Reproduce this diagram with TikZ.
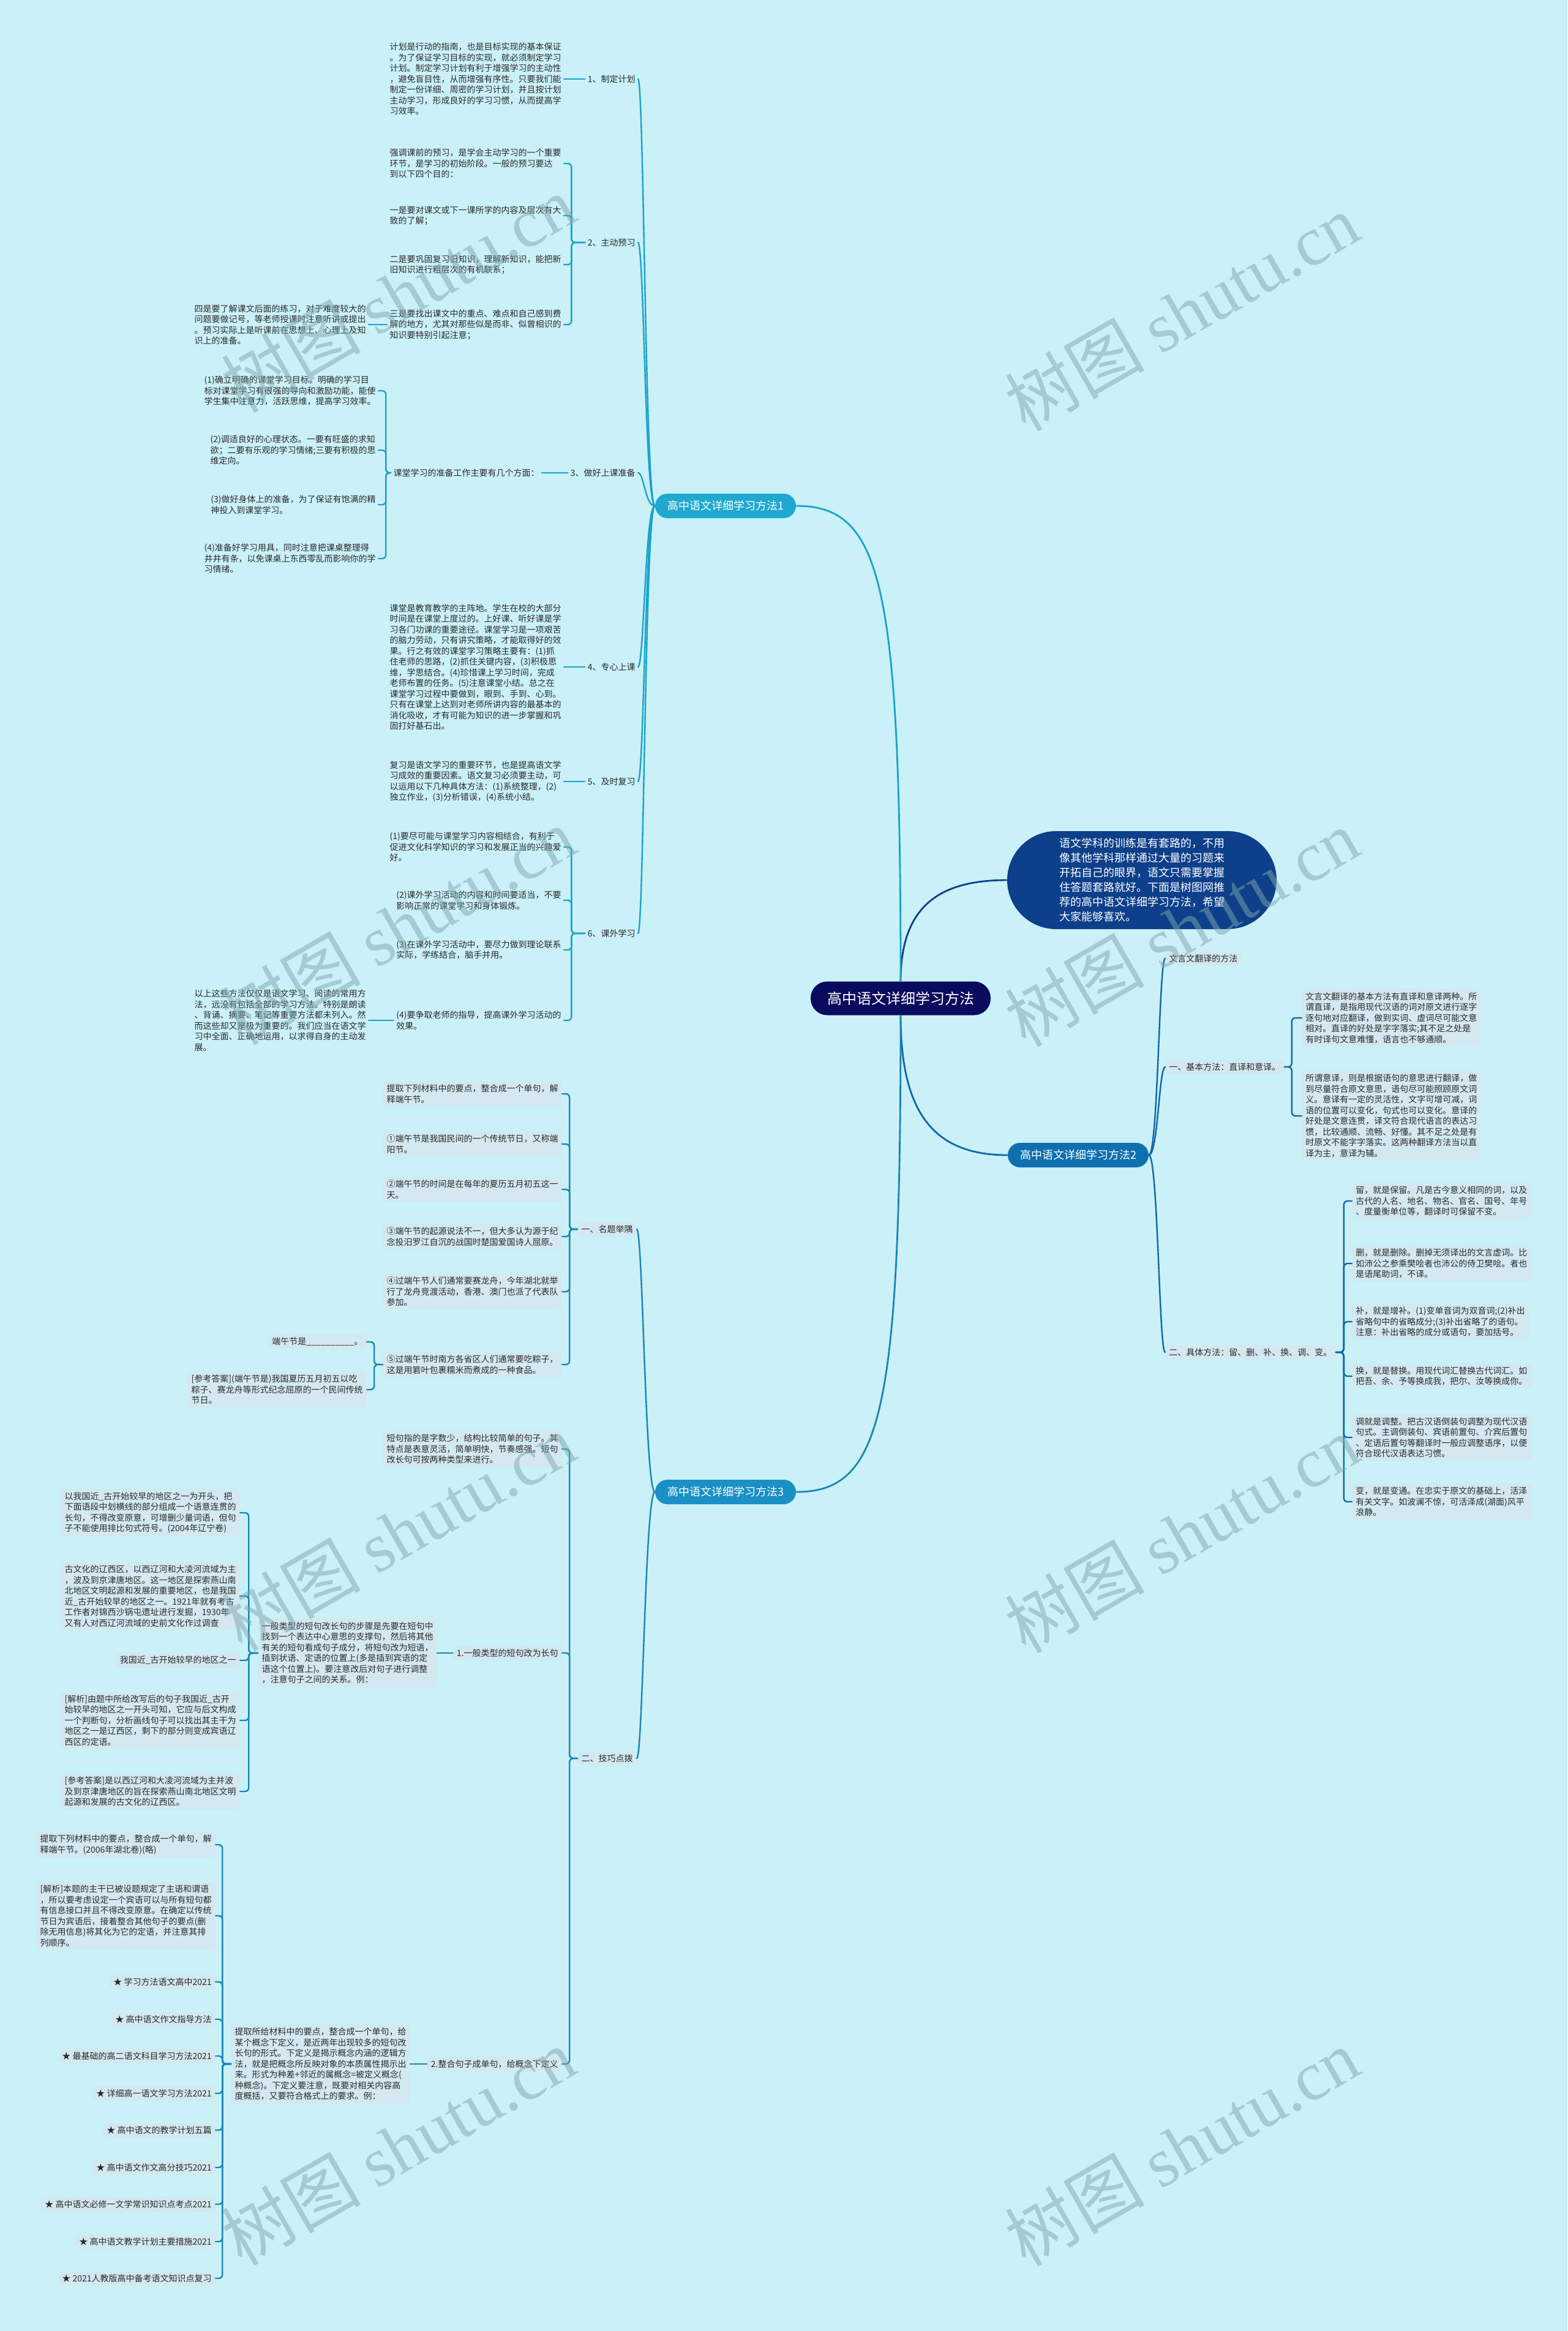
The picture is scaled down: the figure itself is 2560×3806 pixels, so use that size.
\documentclass[tikz,border=0pt]{standalone}
\usepackage{fontspec}
\setmainfont{Noto Sans CJK SC}
\newfontfamily\wmlatin{Liberation Serif}
\definecolor{bgc}{HTML}{CAF0F8}
\definecolor{boxc}{HTML}{D3E8F0}
\definecolor{rootc}{HTML}{0A0A5E}
\definecolor{introc}{HTML}{0D3F8A}
\definecolor{m1c}{HTML}{1FA8D0}
\definecolor{m2c}{HTML}{0F70B0}
\definecolor{m3c}{HTML}{1A90C5}
\definecolor{l1c}{HTML}{1AA3C9}
\definecolor{l2c}{HTML}{0F68A5}
\definecolor{l3c}{HTML}{1A85B5}
\definecolor{wmc}{HTML}{7FA8AF}
\definecolor{txtc}{HTML}{2B2B2B}
\newcommand\fsleaf{\fontsize{7pt}{8.75pt}\selectfont}
\tikzset{
  leaftxt/.style={align=left, inner xsep=2pt, inner ysep=1pt, font=\fsleaf, text=txtc},
  leafbox/.style={leaftxt, fill=boxc, rounded corners=3pt, inner xsep=3pt, inner ysep=2.5pt},
  mnode/.style={text=white, rounded corners=10pt, minimum height=20pt, minimum width=115pt, inner sep=0pt, font=\fontsize{9pt}{11pt}\selectfont},
  rootnode/.style={fill=rootc, text=white, rounded corners=13.5pt, minimum height=27.5pt, minimum width=147pt, inner sep=0pt, font=\fontsize{12pt}{14pt}\selectfont},
  intronode/.style={fill=introc, text=white, rounded corners=40pt, minimum height=80pt, minimum width=220pt, align=left, inner sep=0pt, font=\fontsize{9pt}{12pt}\selectfont},
  wline/.style={line width=1.2pt, line cap=round},
  aline/.style={wline, draw=l1c},
  bline/.style={wline, draw=l2c},
  cline/.style={wline, draw=l3c},
  wmark/.style={rotate=30, text=wmc, text opacity=0.5, font=\fontsize{57pt}{60pt}\selectfont, inner sep=0pt},
}
\begin{document}
\begin{tikzpicture}[x=0.5pt,y=-0.5pt]
\fill[bgc] (0,0) rectangle (2560,3806);
\useasboundingbox (0,0) rectangle (2560,3806);

% ---------- main nodes
\node[rootnode] (root) at (1471,1630) {高中语文详细学习方法};
\node[intronode] (intro) at (1865,1437) {语文学科的训练是有套路的，不用\\像其他学科那样通过大量的习题来\\开拓自己的眼界，语文只需要掌握\\住答题套路就好。下面是树图网推\\荐的高中语文详细学习方法，希望\\大家能够喜欢。};
\node[mnode, fill=m1c] (m1) at (1185,826) {高中语文详细学习方法1};
\node[mnode, fill=m2c] (m2) at (1761,1886) {高中语文详细学习方法2};
\node[mnode, fill=m3c] (m3) at (1185,2436) {高中语文详细学习方法3};

\draw[line width=1.4pt, introc] (root.north) .. controls +(0,-123) and +(-110,0) .. (intro.west);
\draw[line width=1.4pt, l2c] (root.south) .. controls +(0,160) and +(-120,0) .. (m2.west);
\draw[line width=1.4pt, l1c] (root.north) .. controls (1471,950) and (1440,826) .. (m1.east);
\draw[line width=1.4pt, l3c] (root.south) .. controls (1471,2310) and (1440,2436) .. (m3.east);

% ---------- method 1
\node[leaftxt, anchor=east] (L1) at (1042,129) {1、制定计划};
\node[leaftxt, anchor=east] (L2) at (1042,396) {2、主动预习};
\node[leaftxt, anchor=east] (L3) at (1042,772) {3、做好上课准备};
\node[leaftxt, anchor=east] (L4) at (1042,1089) {4、专心上课};
\node[leaftxt, anchor=east] (L5) at (1042,1276) {5、及时复习};
\node[leaftxt, anchor=east] (L6) at (1042,1524) {6、课外学习};
\foreach \c in {L1,L2,L3,L4,L5,L6} {\draw[aline] (m1.west) .. controls +(-16,0) and +(10,0) .. (\c.east);}

\node[leaftxt, anchor=east] (A1) at (921,129) {计划是行动的指南，也是目标实现的基本保证\\。为了保证学习目标的实现，就必须制定学习\\计划。制定学习计划有利于增强学习的主动性\\，避免盲目性，从而增强有序性。只要我们能\\制定一份详细、周密的学习计划，并且按计划\\主动学习，形成良好的学习习惯，从而提高学\\习效率。};
\draw[aline] (L1.west) -- (A1.east);

\node[leaftxt, anchor=east] (A2a) at (921,267) {强调课前的预习，是学会主动学习的一个重要\\环节，是学习的初始阶段。一般的预习要达\\到以下四个目的：};
\node[leaftxt, anchor=east] (A2b) at (921,352) {一是要对课文或下一课所学的内容及层次有大\\致的了解；};
\node[leaftxt, anchor=east] (A2c) at (921,432) {二是要巩固复习旧知识，理解新知识，能把新\\旧知识进行粗层次的有机联系；};
\node[leaftxt, anchor=east] (A2d) at (921,530) {三是要找出课文中的重点、难点和自己感到费\\解的地方，尤其对那些似是而非、似曾相识的\\知识要特别引起注意；};
\node[leaftxt, anchor=east] (A2e) at (602,530) {四是要了解课文后面的练习，对于难度较大的\\问题要做记号，等老师授课时注意听讲或提出\\。预习实际上是听课前在思想上、心理上及知\\识上的准备。};
\foreach \c in {A2a,A2b,A2c,A2d} {\draw[aline, rounded corners=3pt] (L2.west) -- ++(-22,0) |- (\c.east);}
\draw[aline] (A2d.west) -- (A2e.east);

\node[leaftxt, anchor=east] (P3) at (885,772) {课堂学习的准备工作主要有几个方面：};
\draw[aline] (L3.west) -- (P3.east);
\node[leaftxt, anchor=east] (A3a) at (618,638) {(1)确立明确的课堂学习目标。明确的学习目\\标对课堂学习有很强的导向和激励功能，能使\\学生集中注意力，活跃思维，提高学习效率。};
\node[leaftxt, anchor=east] (A3b) at (618,735) {(2)调适良好的心理状态。一要有旺盛的求知\\欲；二要有乐观的学习情绪;三要有积极的思\\维定向。};
\node[leaftxt, anchor=east] (A3c) at (618,824) {(3)做好身体上的准备，为了保证有饱满的精\\神投入到课堂学习。};
\node[leaftxt, anchor=east] (A3d) at (618,912) {(4)准备好学习用具，同时注意把课桌整理得\\井井有条，以免课桌上东西零乱而影响你的学\\习情绪。};
\foreach \c in {A3a,A3b,A3c,A3d} {\draw[aline, rounded corners=3pt] (P3.west) -- ++(-8,0) |- (\c.east);}

\node[leaftxt, anchor=east] (A4) at (921,1089) {课堂是教育教学的主阵地。学生在校的大部分\\时间是在课堂上度过的。上好课、听好课是学\\习各门功课的重要途径。课堂学习是一项艰苦\\的脑力劳动，只有讲究策略，才能取得好的效\\果。行之有效的课堂学习策略主要有：(1)抓\\住老师的思路，(2)抓住关键内容，(3)积极思\\维，学思结合。(4)珍惜课上学习时间，完成\\老师布置的任务。(5)注意课堂小结。总之在\\课堂学习过程中要做到，眼到、手到、心到。\\只有在课堂上达到对老师所讲内容的最基本的\\消化吸收，才有可能为知识的进一步掌握和巩\\固打好基石出。};
\draw[aline] (L4.west) -- (A4.east);

\node[leaftxt, anchor=east] (A5) at (921,1276) {复习是语文学习的重要环节，也是提高语文学\\习成效的重要因素。语文复习必须要主动，可\\以运用以下几种具体方法：(1)系统整理，(2)\\独立作业，(3)分析错误，(4)系统小结。};
\draw[aline] (L5.west) -- (A5.east);

\node[leaftxt, anchor=east] (A6a) at (921,1383) {(1)要尽可能与课堂学习内容相结合，有利于\\促进文化科学知识的学习和发展正当的兴趣爱\\好。};
\node[leaftxt, anchor=east] (A6b) at (921,1470) {(2)课外学习活动的内容和时间要适当，不要\\影响正常的课堂学习和身体锻炼。};
\node[leaftxt, anchor=east] (A6c) at (921,1551) {(3)在课外学习活动中，要尽力做到理论联系\\实际，学练结合，脑手并用。};
\node[leaftxt, anchor=east] (A6d) at (921,1666) {(4)要争取老师的指导，提高课外学习活动的\\效果。};
\node[leaftxt, anchor=east] (A6e) at (602,1666) {以上这些方法仅仅是语文学习、阅读的常用方\\法，远没有包括全部的学习方法。特别是朗读\\、背诵、摘要、笔记等重要方法都未列入。然\\而这些却又是极为重要的。我们应当在语文学\\习中全面、正确地运用，以求得自身的主动发\\展。};
\foreach \c in {A6a,A6b,A6c,A6d} {\draw[aline, rounded corners=3pt] (L6.west) -- ++(-22,0) |- (\c.east);}
\draw[aline] (A6d.west) -- (A6e.east);

% ---------- method 2
\node[leafbox, anchor=west] (R1) at (1903,1565) {文言文翻译的方法};
\node[leafbox, anchor=west] (R2) at (1903,1742) {一、基本方法：直译和意译。};
\node[leafbox, anchor=west] (R3) at (1903,2208) {二、具体方法：留、删、补、换、调、变。};
\foreach \c in {R1,R2,R3} {\draw[bline] (m2.east) .. controls +(15,0) and +(-10,0) .. (\c.west);}

\node[leafbox, anchor=west] (R2a) at (2126,1662) {文言文翻译的基本方法有直译和意译两种。所\\谓直译，是指用现代汉语的词对原文进行逐字\\逐句地对应翻译，做到实词、虚词尽可能文意\\相对。直译的好处是字字落实;其不足之处是\\有时译句文意难懂，语言也不够通顺。};
\node[leafbox, anchor=west] (R2b) at (2126,1822) {所谓意译，则是根据语句的意思进行翻译，做\\到尽量符合原文意思，语句尽可能照顾原文词\\义。意译有一定的灵活性，文字可增可减，词\\语的位置可以变化，句式也可以变化。意译的\\好处是文意连贯，译文符合现代语言的表达习\\惯，比较通顺、流畅、好懂。其不足之处是有\\时原文不能字字落实。这两种翻译方法当以直\\译为主，意译为辅。};
\foreach \c in {R2a,R2b} {\draw[bline, rounded corners=3pt] (R2.east) -- ++(12,0) |- (\c.west);}

\node[leafbox, anchor=west] (R3a) at (2208,1961) {留，就是保留。凡是古今意义相同的词，以及\\古代的人名、地名、物名、官名、国号、年号\\、度量衡单位等，翻译时可保留不变。};
\node[leafbox, anchor=west] (R3b) at (2208,2063) {删，就是删除。删掉无须译出的文言虚词。比\\如沛公之参乘樊哙者也沛公的侍卫樊哙。者也\\是语尾助词，不译。};
\node[leafbox, anchor=west] (R3c) at (2208,2158) {补，就是增补。(1)变单音词为双音词;(2)补出\\省略句中的省略成分;(3)补出省略了的语句。\\注意：补出省略的成分或语句，要加括号。};
\node[leafbox, anchor=west] (R3d) at (2208,2247) {换，就是替换。用现代词汇替换古代词汇。如\\把吾、余、予等换成我，把尔、汝等换成你。};
\node[leafbox, anchor=west] (R3e) at (2208,2347) {调就是调整。把古汉语倒装句调整为现代汉语\\句式。主调倒装句、宾语前置句、介宾后置句\\、定语后置句等翻译时一般应调整语序，以便\\符合现代汉语表达习惯。};
\node[leafbox, anchor=west] (R3f) at (2208,2452) {变，就是变通。在忠实于原文的基础上，活泽\\有关文字。如波澜不惊，可活泽成(湖面)风平\\浪静。};
\foreach \c in {R3a,R3b,R3c,R3d,R3e,R3f} {\draw[bline, rounded corners=3pt] (R3.east) -- ++(13,0) |- (\c.west);}

% ---------- method 3
\node[leafbox, anchor=east] (N1) at (1040,2007) {一、名题举隅};
\node[leafbox, anchor=east] (N2) at (1040,2871) {二、技巧点拨};
\foreach \c in {N1,N2} {\draw[cline] (m3.west) .. controls +(-16,0) and +(10,0) .. (\c.east);}

\node[leafbox, anchor=east] (N1a) at (918,1786) {提取下列材料中的要点，整合成一个单句，解\\释端午节。};
\node[leafbox, anchor=east] (N1b) at (918,1868) {①端午节是我国民间的一个传统节日，又称端\\阳节。};
\node[leafbox, anchor=east] (N1c) at (918,1942) {②端午节的时间是在每年的夏历五月初五这一\\天。};
\node[leafbox, anchor=east] (N1d) at (918,2019) {③端午节的起源说法不一，但大多认为源于纪\\念投汨罗江自沉的战国时楚国爱国诗人屈原。};
\node[leafbox, anchor=east] (N1e) at (918,2109) {④过端午节人们通常要赛龙舟，今年湖北就举\\行了龙舟竞渡活动，香港、澳门也派了代表队\\参加。};
\node[leafbox, anchor=east] (N1f) at (918,2228) {⑤过端午节时南方各省区人们通常要吃粽子，\\这是用箬叶包裹糯米而煮成的一种食品。};
\foreach \c in {N1a,N1b,N1c,N1d,N1e,N1f} {\draw[cline, rounded corners=3pt] (N1.west) -- ++(-13,0) |- (\c.east);}
\node[leafbox, anchor=east] (N1g) at (599,2191) {端午节是\_\_\_\_\_\_\_\_\_\_。};
\node[leafbox, anchor=east] (N1h) at (599,2269) {[参考答案](端午节是)我国夏历五月初五以吃\\粽子、赛龙舟等形式纪念屈原的一个民间传统\\节日。};
\foreach \c in {N1g,N1h} {\draw[cline, rounded corners=3pt] (N1f.west) -- ++(-14,0) |- (\c.east);}

\node[leafbox, anchor=east] (N2a) at (918,2366) {短句指的是字数少，结构比较简单的句子。其\\特点是表意灵活，简单明快，节奏感强。短句\\改长句可按两种类型来进行。};
\node[leafbox, anchor=east] (N2b) at (918,2699) {1.一般类型的短句改为长句};
\node[leafbox, anchor=east] (N2c) at (918,3370) {2.整合句子成单句，给概念下定义};
\foreach \c in {N2a,N2b,N2c} {\draw[cline, rounded corners=3pt] (N2.west) -- ++(-13,0) |- (\c.east);}

\node[leafbox, anchor=east] (N2b1) at (714,2699) {一般类型的短句改长句的步骤是先要在短句中\\找到一个表达中心意思的支撑句，然后将其他\\有关的短句看成句子成分，将短句改为短语，\\插到状语、定语的位置上(多是插到宾语的定\\语这个位置上)。要注意改后对句子进行调整\\，注意句子之间的关系。例：};
\draw[cline] (N2b.west) -- (N2b1.east);
\node[leafbox, anchor=east] (q1) at (392,2470) {以我国近\_古开始较早的地区之一为开头，把\\下面语段中划横线的部分组成一个语意连贯的\\长句，不得改变原意，可增删少量词语，但句\\子不能使用排比句式符号。(2004年辽宁卷)};
\node[leafbox, anchor=east] (q2) at (392,2606) {古文化的辽西区，以西辽河和大凌河流域为主\\，波及到京津唐地区。这一地区是探索燕山南\\北地区文明起源和发展的重要地区，也是我国\\近\_古开始较早的地区之一。1921年就有考古\\工作者对锦西沙锅屯遗址进行发掘，1930年\\又有人对西辽河流域的史前文化作过调查};
\node[leafbox, anchor=east] (q3) at (392,2711) {我国近\_古开始较早的地区之一};
\node[leafbox, anchor=east] (q4) at (392,2809) {[解析]由题中所给改写后的句子我国近\_古开\\始较早的地区之一开头可知，它应与后文构成\\一个判断句，分析画线句子可以找出其主干为\\地区之一是辽西区，剩下的部分则变成宾语辽\\西区的定语。};
\node[leafbox, anchor=east] (q5) at (392,2925) {[参考答案]是以西辽河和大凌河流域为主并波\\及到京津唐地区的旨在探索燕山南北地区文明\\起源和发展的古文化的辽西区。};
\foreach \c in {q1,q2,q3,q4,q5} {\draw[cline, rounded corners=3pt] (N2b1.west) -- ++(-15,0) |- (\c.east);}

\node[leafbox, anchor=east] (N2c1) at (670,3370) {提取所给材料中的要点，整合成一个单句，给\\某个概念下定义，是近两年出现较多的短句改\\长句的形式。下定义是揭示概念内涵的逻辑方\\法，就是把概念所反映对象的本质属性揭示出\\来。形式为种差+邻近的属概念=被定义概念(\\种概念)。下定义要注意，既要对相关内容高\\度概括，又要符合格式上的要求。例：};
\draw[cline] (N2c.west) -- (N2c1.east);
\node[leafbox, anchor=east] (s1) at (352,3012) {提取下列材料中的要点，整合成一个单句，解\\释端午节。(2006年湖北卷)(略)};
\node[leafbox, anchor=east] (s2) at (352,3128) {[解析]本题的主干已被设题规定了主语和谓语\\，所以要考虑设定一个宾语可以与所有短句都\\有信息接口并且不得改变原意。在确定以传统\\节日为宾语后，接着整合其他句子的要点(删\\除无用信息)将其化为它的定语，并注意其排\\列顺序。};
\node[leafbox, anchor=east] (s3) at (352,3236) {★ 学习方法语文高中2021};
\node[leafbox, anchor=east] (s4) at (352,3297) {★ 高中语文作文指导方法};
\node[leafbox, anchor=east] (s5) at (352,3357) {★ 最基础的高二语文科目学习方法2021};
\node[leafbox, anchor=east] (s6) at (352,3418) {★ 详细高一语文学习方法2021};
\node[leafbox, anchor=east] (s7) at (352,3478) {★ 高中语文的教学计划五篇};
\node[leafbox, anchor=east] (s8) at (352,3539) {★ 高中语文作文高分技巧2021};
\node[leafbox, anchor=east] (s9) at (352,3599) {★ 高中语文必修一文学常识知识点考点2021};
\node[leafbox, anchor=east] (s10) at (352,3660) {★ 高中语文教学计划主要措施2021};
\node[leafbox, anchor=east] (s11) at (352,3720) {★ 2021人教版高中备考语文知识点复习};
\foreach \c in {s1,s2,s3,s4,s5,s6,s7,s8,s9,s10,s11} {\draw[cline, rounded corners=3pt] (N2c1.west) -- ++(-14,0) |- (\c.east);}

% ---------- watermarks
\foreach \i/\x/\y in {1/650/480, 2/1930/510, 3/650/1512, 4/1930/1515, 5/650/2502, 6/1930/2505, 7/650/3505, 8/1930/3506}
  {\node[wmark] (wm\i) at (\x,\y) {树图 {\wmlatin shutu.cn}};}
\end{tikzpicture}
\end{document}
